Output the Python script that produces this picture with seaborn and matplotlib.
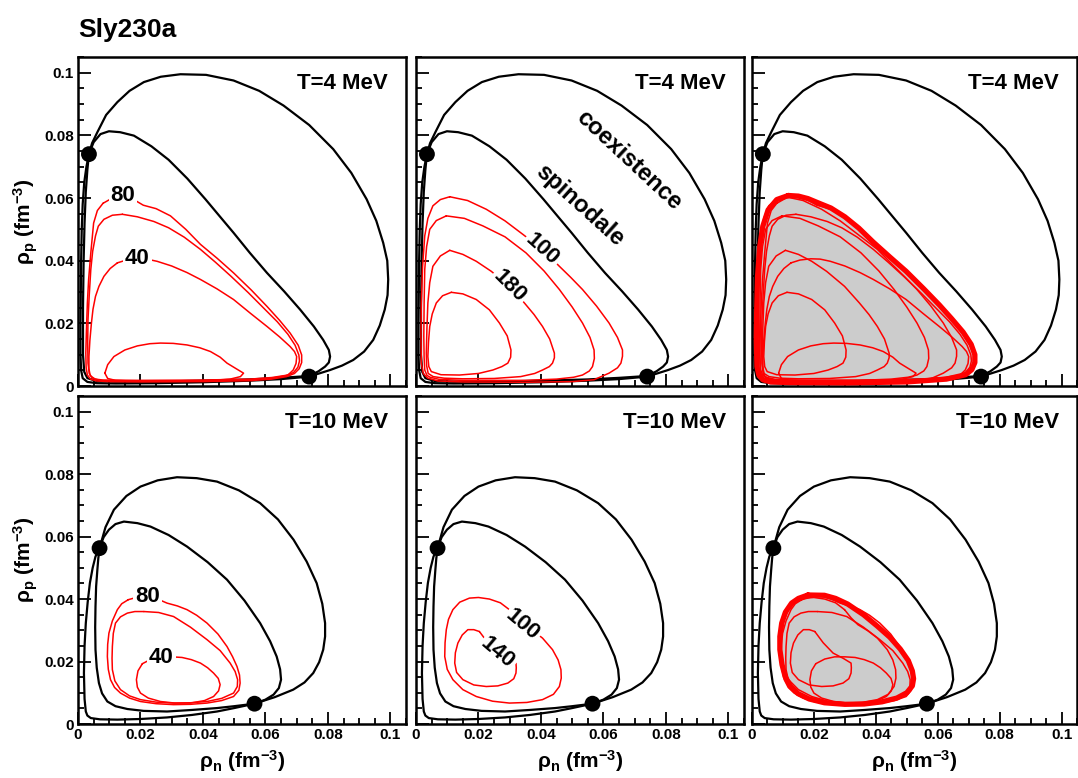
import seaborn as sns
import matplotlib
matplotlib.use("Agg")
import matplotlib.pyplot as plt
from matplotlib.ticker import MultipleLocator, FuncFormatter

# ===== data (fm^-3) =====
# --- T = 4 MeV ---
coex4_x = [0.0035, 0.0045, 0.0062, 0.0090, 0.0126, 0.0165, 0.0211, 0.0265, 0.0328, 0.0410, 0.0498, 0.0580,
           0.0658, 0.0740, 0.0817, 0.0875, 0.0924, 0.0955, 0.0977, 0.0990, 0.0993, 0.0991, 0.0982, 0.0966,
           0.0945, 0.0916, 0.0881, 0.0845, 0.0807, 0.0740, 0.0650, 0.0550, 0.0400, 0.0250, 0.0120, 0.0060,
           0.0030, 0.0015, 0.0010, 0.0008, 0.0008, 0.0009, 0.0010, 0.0012, 0.0015, 0.0020, 0.0027, 0.0035]
coex4_y = [0.0740, 0.0775, 0.0810, 0.0865, 0.0906, 0.0942, 0.0970, 0.0987, 0.0995, 0.0993, 0.0975, 0.0942,
           0.0895, 0.0833, 0.0756, 0.0680, 0.0596, 0.0527, 0.0457, 0.0400, 0.0340, 0.0290, 0.0244, 0.0193,
           0.0147, 0.0110, 0.0083, 0.0065, 0.0051, 0.0030, 0.0022, 0.0017, 0.0012, 0.0009, 0.0008, 0.0009,
           0.0013, 0.0025, 0.0050, 0.0100, 0.0200, 0.0300, 0.0400, 0.0500, 0.0580, 0.0650, 0.0700, 0.0740]
spin4_x = [0.0035, 0.0050, 0.0072, 0.0099, 0.0135, 0.0179, 0.0235, 0.0290, 0.0350, 0.0408, 0.0455, 0.0498,
           0.0550, 0.0605, 0.0660, 0.0711, 0.0755, 0.0785, 0.0803, 0.0807, 0.0803, 0.0791, 0.0770, 0.0740,
           0.0650, 0.0550, 0.0400, 0.0250, 0.0120, 0.0060, 0.0030, 0.0020, 0.0016, 0.0016, 0.0018, 0.0021,
           0.0025, 0.0030, 0.0035]
spin4_y = [0.0740, 0.0778, 0.0804, 0.0813, 0.0810, 0.0799, 0.0765, 0.0722, 0.0662, 0.0596, 0.0540, 0.0489,
           0.0425, 0.0361, 0.0302, 0.0244, 0.0190, 0.0147, 0.0115, 0.0094, 0.0075, 0.0062, 0.0047, 0.0032,
           0.0026, 0.0021, 0.0017, 0.0014, 0.0014, 0.0016, 0.0025, 0.0045, 0.0100, 0.0250, 0.0400, 0.0520,
           0.0620, 0.0690, 0.0740]
crit4_x = [0.0035, 0.0740]
crit4_y = [0.0740, 0.0030]

# left panel contours (80, unlabelled, 40, innermost)
c4a_80_x = [0.0080, 0.0062, 0.0050, 0.0041, 0.0034, 0.0030, 0.0027, 0.0025, 0.0026, 0.0030, 0.0040, 0.0060,
            0.0100, 0.0200, 0.0400, 0.0550, 0.0620, 0.0668, 0.0693, 0.0708, 0.0716, 0.0716, 0.0705, 0.0679,
            0.0645, 0.0605, 0.0555, 0.0498, 0.0445, 0.0392, 0.0345, 0.0296, 0.0250, 0.0209, 0.0175, 0.0145,
            0.0110, 0.0080]
c4a_80_y = [0.0583, 0.0560, 0.0520, 0.0425, 0.0340, 0.0265, 0.0180, 0.0105, 0.0060, 0.0035, 0.0022, 0.0016,
            0.0014, 0.0013, 0.0014, 0.0017, 0.0022, 0.0030, 0.0040, 0.0055, 0.0075, 0.0099, 0.0130, 0.0169,
            0.0210, 0.0254, 0.0306, 0.0361, 0.0408, 0.0452, 0.0500, 0.0543, 0.0566, 0.0577, 0.0597, 0.0607,
            0.0600, 0.0583]
c4a_60_x = [0.0142, 0.0110, 0.0083, 0.0065, 0.0056, 0.0047, 0.0041, 0.0036, 0.0032, 0.0031, 0.0032, 0.0036,
            0.0046, 0.0070, 0.0120, 0.0200, 0.0400, 0.0550, 0.0620, 0.0665, 0.0690, 0.0704, 0.0709, 0.0707,
            0.0695, 0.0672, 0.0638, 0.0598, 0.0545, 0.0490, 0.0440, 0.0392, 0.0340, 0.0290, 0.0243, 0.0190,
            0.0142]
c4a_60_y = [0.0548, 0.0545, 0.0532, 0.0510, 0.0479, 0.0430, 0.0372, 0.0290, 0.0212, 0.0140, 0.0073, 0.0040,
            0.0025, 0.0018, 0.0016, 0.0016, 0.0017, 0.0020, 0.0025, 0.0033, 0.0043, 0.0060, 0.0080, 0.0099,
            0.0130, 0.0165, 0.0205, 0.0245, 0.0298, 0.0350, 0.0395, 0.0436, 0.0475, 0.0505, 0.0525, 0.0540,
            0.0548]
c4a_40_x = [0.0126, 0.0103, 0.0083, 0.0067, 0.0056, 0.0048, 0.0043, 0.0038, 0.0035, 0.0035, 0.0039, 0.0055,
            0.0080, 0.0200, 0.0400, 0.0550, 0.0620, 0.0672, 0.0689, 0.0698, 0.0700, 0.0693, 0.0679, 0.0645,
            0.0605, 0.0552, 0.0498, 0.0445, 0.0392, 0.0349, 0.0300, 0.0253, 0.0220, 0.0190, 0.0155, 0.0126]
c4a_40_y = [0.0393, 0.0375, 0.0350, 0.0318, 0.0286, 0.0245, 0.0201, 0.0145, 0.0094, 0.0055, 0.0033, 0.0022,
            0.0019, 0.0018, 0.0019, 0.0022, 0.0027, 0.0035, 0.0051, 0.0072, 0.0094, 0.0110, 0.0126, 0.0157,
            0.0190, 0.0232, 0.0276, 0.0310, 0.0340, 0.0362, 0.0383, 0.0398, 0.0405, 0.0406, 0.0402, 0.0393]
c4a_in_x = [0.0086, 0.0095, 0.0115, 0.0150, 0.0190, 0.0230, 0.0264, 0.0305, 0.0349, 0.0390, 0.0424, 0.0455,
            0.0477, 0.0505, 0.0530, 0.0520, 0.0487, 0.0400, 0.0285, 0.0170, 0.0120, 0.0095, 0.0086]
c4a_in_y = [0.0041, 0.0068, 0.0094, 0.0115, 0.0128, 0.0135, 0.0137, 0.0136, 0.0131, 0.0122, 0.0110, 0.0092,
            0.0073, 0.0056, 0.0041, 0.0030, 0.0022, 0.0016, 0.0015, 0.0016, 0.0018, 0.0024, 0.0041]

# middle panel contours (100, unlabelled, 180, innermost)
c4b_100_x = [0.0108, 0.0078, 0.0054, 0.0038, 0.0028, 0.0021, 0.0017, 0.0016, 0.0017, 0.0023, 0.0038, 0.0070,
             0.0150, 0.0350, 0.0500, 0.0570, 0.0618, 0.0645, 0.0656, 0.0661, 0.0661, 0.0645, 0.0618, 0.0578,
             0.0533, 0.0495, 0.0459, 0.0405, 0.0342, 0.0285, 0.0225, 0.0165, 0.0108]
c4b_100_y = [0.0604, 0.0595, 0.0575, 0.0535, 0.0479, 0.0380, 0.0265, 0.0160, 0.0073, 0.0040, 0.0025, 0.0016,
             0.0013, 0.0012, 0.0014, 0.0020, 0.0041, 0.0058, 0.0073, 0.0095, 0.0115, 0.0155, 0.0201, 0.0255,
             0.0308, 0.0347, 0.0382, 0.0436, 0.0484, 0.0527, 0.0564, 0.0592, 0.0604]
c4b_140_x = [0.0097, 0.0065, 0.0044, 0.0034, 0.0028, 0.0026, 0.0025, 0.0026, 0.0028, 0.0035, 0.0045, 0.0075,
             0.0150, 0.0350, 0.0450, 0.0505, 0.0533, 0.0555, 0.0565, 0.0571, 0.0570, 0.0557, 0.0533, 0.0500,
             0.0459, 0.0410, 0.0352, 0.0285, 0.0214, 0.0155, 0.0097]
c4b_140_y = [0.0543, 0.0528, 0.0500, 0.0445, 0.0372, 0.0265, 0.0158, 0.0090, 0.0051, 0.0034, 0.0028, 0.0021,
             0.0018, 0.0018, 0.0022, 0.0028, 0.0035, 0.0048, 0.0062, 0.0088, 0.0115, 0.0155, 0.0201, 0.0252,
             0.0308, 0.0367, 0.0425, 0.0476, 0.0511, 0.0535, 0.0543]
c4b_180_x = [0.0108, 0.0078, 0.0054, 0.0044, 0.0038, 0.0035, 0.0033, 0.0034, 0.0039, 0.0055, 0.0090, 0.0150,
             0.0250, 0.0335, 0.0380, 0.0405, 0.0427, 0.0437, 0.0443, 0.0443, 0.0428, 0.0405, 0.0378, 0.0347,
             0.0299, 0.0241, 0.0193, 0.0150, 0.0108]
c4b_180_y = [0.0433, 0.0415, 0.0382, 0.0330, 0.0265, 0.0185, 0.0105, 0.0065, 0.0040, 0.0030, 0.0025, 0.0023,
             0.0024, 0.0030, 0.0040, 0.0051, 0.0062, 0.0073, 0.0090, 0.0105, 0.0150, 0.0190, 0.0228, 0.0265,
             0.0318, 0.0366, 0.0398, 0.0420, 0.0433]
c4b_in_x = [0.0113, 0.0085, 0.0065, 0.0052, 0.0044, 0.0040, 0.0038, 0.0041, 0.0049, 0.0080, 0.0139, 0.0200,
            0.0246, 0.0275, 0.0294, 0.0303, 0.0304, 0.0292, 0.0267, 0.0235, 0.0193, 0.0150, 0.0113]
c4b_in_y = [0.0299, 0.0288, 0.0265, 0.0230, 0.0190, 0.0140, 0.0094, 0.0062, 0.0046, 0.0036, 0.0035, 0.0040,
            0.0051, 0.0062, 0.0073, 0.0092, 0.0115, 0.0160, 0.0201, 0.0243, 0.0276, 0.0294, 0.0299]

# instability envelope
env4_x = [0.0117, 0.0150, 0.0181, 0.0220, 0.0255, 0.0300, 0.0345, 0.0392, 0.0445, 0.0498, 0.0555, 0.0605,
          0.0645, 0.0682, 0.0708, 0.0720, 0.0720, 0.0710, 0.0690, 0.0628, 0.0500, 0.0309, 0.0120, 0.0060,
          0.0035, 0.0022, 0.0016, 0.0014, 0.0015, 0.0018, 0.0025, 0.0035, 0.0052, 0.0080, 0.0117]
env4_y = [0.0608, 0.0606, 0.0598, 0.0582, 0.0568, 0.0540, 0.0504, 0.0459, 0.0412, 0.0366, 0.0310, 0.0259,
          0.0215, 0.0172, 0.0133, 0.0100, 0.0075, 0.0052, 0.0036, 0.0022, 0.0013, 0.0010, 0.0011, 0.0013,
          0.0020, 0.0035, 0.0062, 0.0150, 0.0233, 0.0350, 0.0446, 0.0510, 0.0562, 0.0595, 0.0608]

# --- T = 10 MeV ---
coex10_x = [0.0069, 0.0088, 0.0115, 0.0155, 0.0200, 0.0255, 0.0317, 0.0380, 0.0445, 0.0515, 0.0583, 0.0640,
            0.0690, 0.0732, 0.0764, 0.0782, 0.0791, 0.0791, 0.0785, 0.0772, 0.0753, 0.0725, 0.0689, 0.0630,
            0.0565, 0.0500, 0.0445, 0.0365, 0.0285, 0.0200, 0.0126, 0.0070, 0.0041, 0.0030, 0.0025, 0.0021,
            0.0019, 0.0021, 0.0025, 0.0031, 0.0038, 0.0047, 0.0056, 0.0069]
coex10_y = [0.0563, 0.0630, 0.0686, 0.0730, 0.0760, 0.0780, 0.0790, 0.0787, 0.0776, 0.0748, 0.0707, 0.0655,
            0.0590, 0.0520, 0.0451, 0.0385, 0.0323, 0.0280, 0.0238, 0.0198, 0.0163, 0.0133, 0.0110, 0.0086,
            0.0065, 0.0051, 0.0040, 0.0029, 0.0021, 0.0016, 0.0014, 0.0015, 0.0019, 0.0027, 0.0040, 0.0080,
            0.0163, 0.0250, 0.0323, 0.0390, 0.0451, 0.0500, 0.0536, 0.0563]
spin10_x = [0.0069, 0.0082, 0.0099, 0.0120, 0.0147, 0.0190, 0.0232, 0.0290, 0.0349, 0.0415, 0.0477, 0.0533,
            0.0583, 0.0615, 0.0636, 0.0647, 0.0650, 0.0643, 0.0626, 0.0600, 0.0565, 0.0500, 0.0445, 0.0365,
            0.0285, 0.0210, 0.0158, 0.0120, 0.0094, 0.0077, 0.0067, 0.0060, 0.0056, 0.0055, 0.0056, 0.0058,
            0.0062, 0.0065, 0.0069]
spin10_y = [0.0563, 0.0598, 0.0622, 0.0640, 0.0648, 0.0643, 0.0632, 0.0605, 0.0568, 0.0518, 0.0462, 0.0395,
            0.0323, 0.0265, 0.0216, 0.0175, 0.0142, 0.0115, 0.0094, 0.0078, 0.0065, 0.0057, 0.0051, 0.0045,
            0.0040, 0.0042, 0.0048, 0.0057, 0.0072, 0.0098, 0.0131, 0.0180, 0.0238, 0.0310, 0.0376, 0.0440,
            0.0494, 0.0530, 0.0563]
crit10_x = [0.0069, 0.0565]
crit10_y = [0.0563, 0.0065]

c10a_80_x = [0.0161, 0.0140, 0.0126, 0.0110, 0.0099, 0.0095, 0.0094, 0.0097, 0.0104, 0.0117, 0.0136, 0.0165,
             0.0200, 0.0250, 0.0306, 0.0360, 0.0413, 0.0460, 0.0498, 0.0515, 0.0519, 0.0517, 0.0509, 0.0495,
             0.0477, 0.0448, 0.0413, 0.0380, 0.0349, 0.0318, 0.0285, 0.0255, 0.0223, 0.0190, 0.0161]
c10a_80_y = [0.0398, 0.0385, 0.0366, 0.0330, 0.0291, 0.0255, 0.0216, 0.0175, 0.0142, 0.0117, 0.0099, 0.0083,
             0.0072, 0.0065, 0.0062, 0.0063, 0.0067, 0.0075, 0.0088, 0.0108, 0.0131, 0.0157, 0.0184, 0.0215,
             0.0248, 0.0288, 0.0323, 0.0348, 0.0366, 0.0378, 0.0387, 0.0400, 0.0410, 0.0406, 0.0398]
c10a_60_x = [0.0211, 0.0182, 0.0158, 0.0136, 0.0120, 0.0113, 0.0110, 0.0109, 0.0110, 0.0118, 0.0136, 0.0165,
             0.0200, 0.0250, 0.0306, 0.0360, 0.0413, 0.0460, 0.0498, 0.0510, 0.0511, 0.0503, 0.0487, 0.0455,
             0.0413, 0.0360, 0.0306, 0.0258, 0.0211]
c10a_60_y = [0.0360, 0.0360, 0.0355, 0.0343, 0.0323, 0.0290, 0.0248, 0.0210, 0.0174, 0.0138, 0.0110, 0.0090,
             0.0078, 0.0070, 0.0067, 0.0068, 0.0072, 0.0082, 0.0099, 0.0120, 0.0142, 0.0168, 0.0195, 0.0235,
             0.0270, 0.0310, 0.0344, 0.0357, 0.0360]
c10a_40_x = [0.0206, 0.0192, 0.0187, 0.0190, 0.0200, 0.0225, 0.0264, 0.0310, 0.0360, 0.0405, 0.0434, 0.0450,
             0.0455, 0.0449, 0.0434, 0.0415, 0.0392, 0.0363, 0.0333, 0.0300, 0.0267, 0.0235, 0.0206]
c10a_40_y = [0.0193, 0.0170, 0.0142, 0.0118, 0.0099, 0.0083, 0.0072, 0.0067, 0.0067, 0.0075, 0.0088, 0.0106,
             0.0126, 0.0146, 0.0163, 0.0180, 0.0195, 0.0206, 0.0213, 0.0215, 0.0215, 0.0208, 0.0193]

c10b_100_x = [0.0299, 0.0270, 0.0235, 0.0200, 0.0171, 0.0140, 0.0118, 0.0104, 0.0097, 0.0093, 0.0092, 0.0100,
              0.0118, 0.0150, 0.0193, 0.0245, 0.0299, 0.0355, 0.0405, 0.0440, 0.0459, 0.0465, 0.0464, 0.0455,
              0.0437, 0.0405, 0.0375, 0.0342, 0.0320, 0.0299]
c10b_100_y = [0.0366, 0.0388, 0.0400, 0.0405, 0.0403, 0.0390, 0.0366, 0.0335, 0.0302, 0.0260, 0.0216, 0.0175,
              0.0142, 0.0110, 0.0088, 0.0073, 0.0067, 0.0069, 0.0078, 0.0095, 0.0120, 0.0147, 0.0174, 0.0205,
              0.0238, 0.0275, 0.0298, 0.0318, 0.0340, 0.0366]
c10b_140_x = [0.0203, 0.0185, 0.0166, 0.0148, 0.0134, 0.0126, 0.0124, 0.0130, 0.0150, 0.0185, 0.0225, 0.0262,
              0.0294, 0.0313, 0.0320, 0.0321, 0.0320, 0.0295, 0.0262, 0.0230, 0.0203]
c10b_140_y = [0.0296, 0.0302, 0.0302, 0.0285, 0.0259, 0.0228, 0.0195, 0.0165, 0.0142, 0.0125, 0.0120, 0.0122,
              0.0131, 0.0145, 0.0163, 0.0180, 0.0195, 0.0210, 0.0227, 0.0260, 0.0296]

env10_x = [0.0181, 0.0150, 0.0128, 0.0108, 0.0096, 0.0090, 0.0090, 0.0097, 0.0107, 0.0125, 0.0149, 0.0185,
           0.0234, 0.0300, 0.0362, 0.0420, 0.0468, 0.0500, 0.0518, 0.0522, 0.0518, 0.0505, 0.0479, 0.0445,
           0.0404, 0.0360, 0.0309, 0.0270, 0.0234, 0.0181]
env10_y = [0.0413, 0.0402, 0.0387, 0.0358, 0.0323, 0.0280, 0.0238, 0.0190, 0.0152, 0.0120, 0.0097, 0.0080,
           0.0068, 0.0063, 0.0064, 0.0071, 0.0083, 0.0100, 0.0122, 0.0145, 0.0170, 0.0203, 0.0240, 0.0278,
           0.0314, 0.0350, 0.0384, 0.0402, 0.0412, 0.0413]

temps = ["T=4 MeV", "T=10 MeV"]
labels4a = ["80", "40"]
labels4b = ["100", "180"]
labels10a = ["80", "40"]
labels10b = ["100", "140"]

# ===== style =====
sns.set_style("ticks")
plt.rcParams['font.family'] = ['Liberation Sans', 'DejaVu Sans']
plt.rcParams['font.weight'] = 'bold'
plt.rcParams['mathtext.fontset'] = 'custom'
plt.rcParams['mathtext.rm'] = 'Liberation Sans:bold'
plt.rcParams['mathtext.bf'] = 'Liberation Sans:bold'
plt.rcParams['mathtext.it'] = 'Liberation Sans:bold'
plt.rcParams['mathtext.default'] = 'bf'
for key in ['text.color', 'axes.labelcolor', 'xtick.color', 'ytick.color', 'axes.edgecolor']:
    plt.rcParams[key] = 'black'

fig = plt.figure(figsize=(10.78, 7.78), dpi=100)
W, H = 1078.0, 778.0
col_left = [78, 416, 752]
col_w = [328, 328, 325]
row_bottom = [386, 724]
row_h = [329, 328]

fmt = FuncFormatter(lambda v, p: '%g' % round(v, 3))


def curve(ax, xs, ys, color, lw, z):
    sns.lineplot(x=xs, y=ys, sort=False, estimator=None, color=color, linewidth=lw, zorder=z, ax=ax)


def clabel(ax, x, y, s, rot=0):
    ax.text(x, y, s, fontsize=16, fontweight='bold', ha='center', va='center', rotation=rot,
            rotation_mode='anchor', zorder=6,
            bbox=dict(facecolor='white', edgecolor='none', pad=1.5))


panels = {
    0: dict(coex=(coex4_x, coex4_y), spin=(spin4_x, spin4_y), crit=(crit4_x, crit4_y),
            a=[(c4a_80_x, c4a_80_y), (c4a_60_x, c4a_60_y), (c4a_40_x, c4a_40_y), (c4a_in_x, c4a_in_y)],
            b=[(c4b_100_x, c4b_100_y), (c4b_140_x, c4b_140_y), (c4b_180_x, c4b_180_y), (c4b_in_x, c4b_in_y)],
            env=(env4_x, env4_y)),
    1: dict(coex=(coex10_x, coex10_y), spin=(spin10_x, spin10_y), crit=(crit10_x, crit10_y),
            a=[(c10a_80_x, c10a_80_y), (c10a_60_x, c10a_60_y), (c10a_40_x, c10a_40_y)],
            b=[(c10b_100_x, c10b_100_y), (c10b_140_x, c10b_140_y)],
            env=(env10_x, env10_y)),
}

for r in range(2):
    d = panels[r]
    for c in range(3):
        ax = fig.add_axes([col_left[c] / W, (H - row_bottom[r]) / H, col_w[c] / W, row_h[r] / H])
        ax.set_xlim(0, 0.105)
        ax.set_ylim(0, 0.105)

        # black coexistence / spinodal curves
        curve(ax, *d['coex'], 'black', 1.6, 3)
        curve(ax, *d['spin'], 'black', 1.6, 3)

        if c == 0:
            for xs, ys in d['a']:
                curve(ax, xs, ys, 'red', 1.1, 4)
        elif c == 1:
            for xs, ys in d['b']:
                curve(ax, xs, ys, 'red', 1.1, 4)
        else:
            ax.fill(*d['env'], color='#cccccc', zorder=1, lw=0)
            for xs, ys in d['a'] + d['b']:
                curve(ax, xs, ys, 'red', 1.1, 4)
            curve(ax, *d['env'], 'red', 3.8, 5)

        sns.scatterplot(x=d['crit'][0], y=d['crit'][1], color='black', s=130, edgecolor='none',
                        zorder=7, ax=ax)

        # contour labels
        if r == 0 and c == 0:
            clabel(ax, 0.0144, 0.0607, labels4a[0])
            clabel(ax, 0.0190, 0.0406, labels4a[1])
        if r == 0 and c == 1:
            clabel(ax, 0.0405, 0.0436, labels4b[0], -42)
            clabel(ax, 0.0299, 0.0318, labels4b[1], -45)
            ax.text(0.0680, 0.0722, "coexistence", fontsize=17, fontweight='bold', rotation=-43,
                    ha='center', va='center', rotation_mode='anchor')
            ax.text(0.0525, 0.0575, "spinodale", fontsize=17, fontweight='bold', rotation=-42,
                    ha='center', va='center', rotation_mode='anchor')
        if r == 1 and c == 0:
            clabel(ax, 0.0223, 0.0408, labels10a[0])
            clabel(ax, 0.0267, 0.0213, labels10a[1])
        if r == 1 and c == 1:
            clabel(ax, 0.0342, 0.0318, labels10b[0], -40)
            clabel(ax, 0.0262, 0.0227, labels10b[1], -40)

        ax.text(0.945, 0.92, temps[r], transform=ax.transAxes, ha='right', va='center',
                fontsize=16, fontweight='bold')

        # axes / ticks
        ax.xaxis.set_major_locator(MultipleLocator(0.02))
        ax.xaxis.set_minor_locator(MultipleLocator(0.005))
        ax.yaxis.set_major_locator(MultipleLocator(0.02))
        ax.yaxis.set_minor_locator(MultipleLocator(0.005))
        ax.xaxis.set_major_formatter(fmt)
        ax.yaxis.set_major_formatter(fmt)
        ax.tick_params(which='both', direction='in', top=False, right=False, width=1.3,
                       labelsize=11, pad=3, colors='black')
        ax.tick_params(which='major', length=9)
        ax.tick_params(which='minor', length=4.5)
        for sp in ax.spines.values():
            sp.set_visible(True)
            sp.set_linewidth(1.8)
            sp.set_color('black')
        for lab in ax.get_xticklabels() + ax.get_yticklabels():
            lab.set_fontweight('bold')

        if c != 0:
            ax.set_yticklabels([])
        else:
            ax.set_ylabel('ρ$_{p}$ (fm$^{-3}$)', fontsize=15, fontweight='bold')
            ax.yaxis.set_label_coords(-0.115, 0.5)
        if r == 0:
            ax.set_xticklabels([])
        else:
            ax.set_xlabel('ρ$_{n}$ (fm$^{-3}$)', fontsize=15, fontweight='bold')
            ax.xaxis.set_label_coords(0.5, -0.075)

fig.text(78 / W, 1 - 37 / H, "Sly230a", fontsize=19, fontweight='bold', va='baseline', ha='left')

fig.savefig("out.png", dpi=100)
